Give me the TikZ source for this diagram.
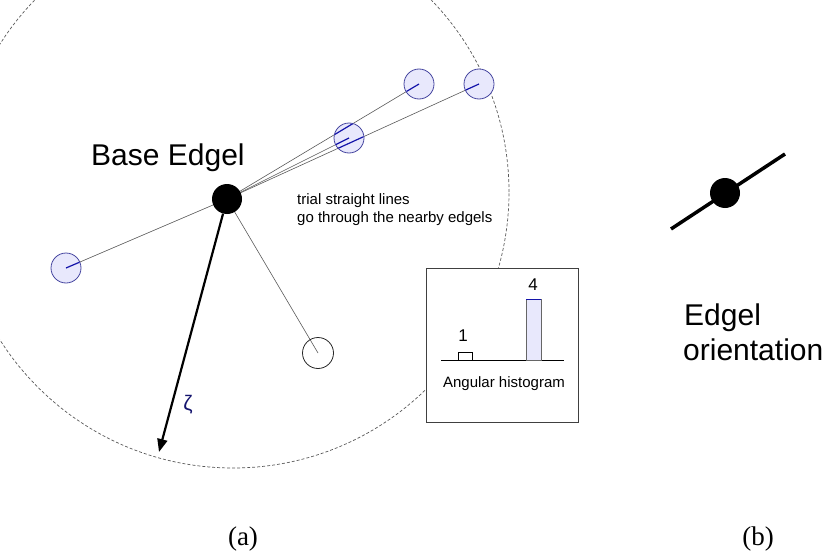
\documentclass[tikz,border=0pt]{standalone}
\usepackage{fontspec}
\setmainfont{Liberation Serif}
\setsansfont{Liberation Sans}
\usetikzlibrary{arrows.meta,backgrounds}
\definecolor{edgefill}{RGB}{232,232,252}
\definecolor{edgeline}{RGB}{70,70,160}
\definecolor{edgedir}{RGB}{20,20,170}
\definecolor{zetacol}{RGB}{20,20,110}
\begin{document}
\begin{tikzpicture}[x=1pt,y=-1pt,
  nbr/.style={circle,draw=edgeline,fill=edgefill,minimum size=30pt,inner sep=0pt,line width=0.8pt},
  blackdot/.style={circle,fill=black,minimum size=30pt,inner sep=0pt},
  whitedot/.style={circle,draw=black!85,minimum size=31pt,inner sep=0pt,line width=0.8pt},
  trial/.style={draw=black!65,line width=0.6pt},
  sanslabel/.style={font=\sffamily\fontsize{30}{35}\selectfont,inner sep=0pt},
  smalllabel/.style={font=\sffamily\fontsize{15}{18}\selectfont,inner sep=0pt},
  histlabel/.style={font=\sffamily\fontsize{15}{18}\selectfont,inner sep=0pt},
  digitlabel/.style={font=\sffamily\fontsize{17}{18}\selectfont,inner sep=0pt},
  caplabel/.style={font=\rmfamily\fontsize{27}{29}\selectfont,inner sep=0pt}]
\useasboundingbox (0,0) rectangle (827,551);
\begin{scope}
\clip (0,0) rectangle (827,551);
% nodes
\node[blackdot] (base) at (227,199) {};
\node[nbr] (c1) at (66,268) {};
\node[nbr] (c2) at (349,138) {};
\node[nbr] (c3) at (419,84) {};
\node[nbr] (c4) at (479,84) {};
\node[whitedot] (w) at (318,353) {};
\coordinate (tip) at (159,452);
\coordinate (cc) at (233,192);
% background: dashed circle and trial lines
\begin{scope}[on background layer]
\draw[black!65,line width=0.7pt,dash pattern=on 3pt off 2pt] (cc) circle[radius=276pt];
\draw[trial] (base.center) -- (c1.center);
\draw[trial] (base.center) -- (c2.center);
\draw[trial] (base.center) -- (c3.center);
\draw[trial] (base.center) -- (c4.center);
\draw[trial] (base.center) -- (w.center);
\end{scope}
% blue parts of lines inside nearby edgels
\begin{scope}
\clip (c1.center) circle[radius=14.6pt] (c2.center) circle[radius=14.6pt]
      (c3.center) circle[radius=14.6pt] (c4.center) circle[radius=14.6pt];
\draw[edgedir,line width=1.2pt] (base.center) -- (c1.center);
\draw[edgedir,line width=1.2pt] (base.center) -- (c2.center);
\draw[edgedir,line width=1.2pt] (base.center) -- (c3.center);
\draw[edgedir,line width=1.2pt] (base.center) -- (c4.center);
\end{scope}
% arrow zeta
\draw[line width=2.2pt,-{Triangle[length=13pt,width=10pt]}] (base) -- (tip);
\node[font=\sffamily\fontsize{21}{22}\selectfont,text=zetacol,inner sep=0pt] (zeta) at (188,405) {ζ};
% labels
\node[sanslabel,anchor=base west] (basetxt) at (91,165) {Base Edgel};
\node[smalllabel,anchor=base west] (trial1) at (297,204) {trial straight lines};
\node[smalllabel,anchor=base west] (trial2) at (297,222) {go through the nearby edgels};
% histogram box
\node[draw=black!75,fill=white,line width=0.9pt,minimum width=152pt,minimum height=154pt,inner sep=0pt,anchor=north west] (hist) at (426,268) {};
\draw[black,line width=0.8pt] (441,360) -- (564,360);
\draw[fill=white,draw=black,line width=0.7pt] (458,352) rectangle (472,360);
\draw[fill=edgefill,draw=black!60,line width=0.7pt] (526,299) rectangle (541,360);
\draw[edgedir,line width=1pt] (526,299) -- (541,299);
\node[digitlabel,anchor=base] (one) at (463,341) {1};
\node[digitlabel,anchor=base] (four) at (533,290) {4};
\node[histlabel,anchor=base] (htxt) at (504,387) {Angular histogram};
% panel (b)
\coordinate (oa) at (671,229);
\coordinate (ob) at (785,154);
\draw[line width=3.5pt] (oa) -- (ob);
\node[blackdot] (orient) at (725,193) {};
\node[sanslabel,anchor=base west] (or1) at (684,325) {Edgel};
\node[sanslabel,anchor=base west] (or2) at (683,360) {orientation};
% captions
\node[caplabel,anchor=base] (capa) at (243,545) {(a)};
\node[caplabel,anchor=base] (capb) at (758,545) {(b)};
\end{scope}
\end{tikzpicture}
\end{document}
